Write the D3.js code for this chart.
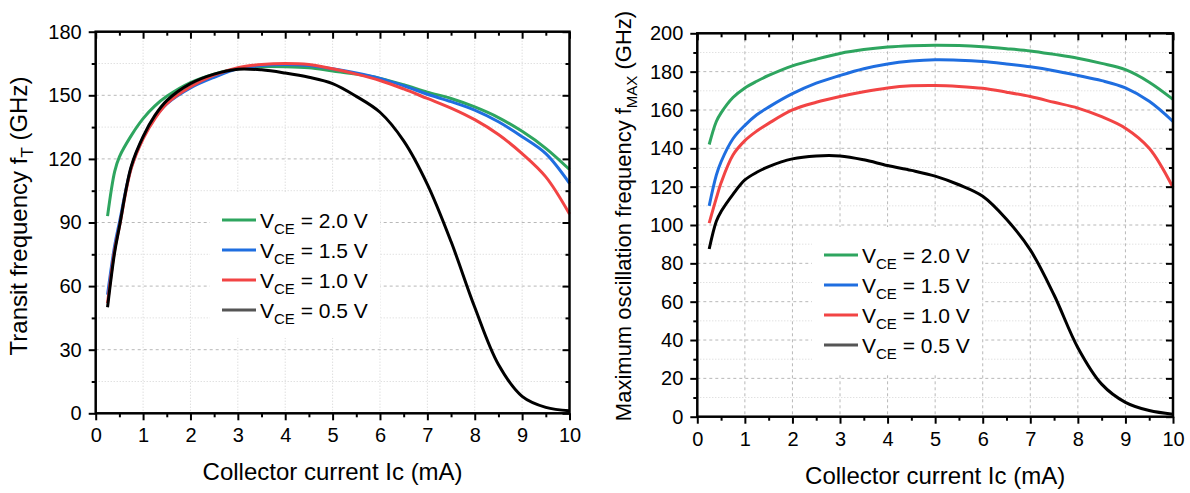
<!DOCTYPE html>
<html>
<head>
<meta charset="utf-8">
<script src="https://cdn.jsdelivr.net/npm/d3@7"></script>
<style>
  body { margin: 0; background: #fff; }
  svg text { font-family: "Liberation Sans", Arial, sans-serif; fill: #000; }
</style>
</head>
<body>
<svg id="chart" width="1190" height="493"></svg>
<script>
// collector current (mA), shared by every curve
const currents = [0.25, 0.4, 0.5, 0.75, 1, 1.25, 1.5, 2, 2.5, 3, 3.5, 4, 4.5, 5, 5.5, 6, 6.5, 7, 7.5, 8, 8.5, 9, 9.5, 10]

// series labels (V_CE) and colors
const seriesNames = ["2.0", "1.5", "1.0", "0.5"]
const seriesColors = ["#2ea55f", "#1f6ee0", "#f24444", "#000000"]
const legendColors = ["#2ea55f", "#1f6ee0", "#f24444", "#555555"]

// transit frequency fT (GHz)
const ft_20 = [93, 114, 121, 131, 139, 145, 149.5, 156, 160, 162.5, 163.5, 163.5, 163, 161.5, 160, 158, 155, 151.5, 148.5, 144.5, 139.5, 133, 125, 115]
const ft_15 = [56, 79, 90, 116, 130, 139.5, 146, 153.5, 158.5, 162.5, 164, 164.5, 164, 162.5, 160.5, 158, 154.5, 150.5, 147, 143, 137.5, 130.5, 122.5, 108.5]
const ft_10 = [52, 77, 88, 115.5, 129.5, 139, 146, 154, 159.5, 163, 164.5, 165, 164.5, 162.5, 160, 157, 153, 148.5, 144, 138.5, 131.5, 122.5, 111.5, 94]
const ft_05 = [50, 76, 88, 116.5, 130.5, 140.5, 147.5, 155.5, 160, 162.3, 162, 160.5, 158.5, 155.5, 149.5, 142, 128.5, 108, 81, 50, 23, 8, 2.8, 1.2]

// maximum oscillation frequency fMAX (GHz)
const fmax_20 = [142, 154, 158.5, 166.5, 171.5, 175, 178, 183, 186.5, 189.5, 191.5, 192.8, 193.5, 193.8, 193.6, 193, 192, 190.8, 189, 187, 184.3, 181, 174.5, 165.5]
const fmax_15 = [110, 126, 133, 145, 152, 157.5, 161.5, 168.5, 174, 178, 181.5, 184, 185.5, 186.2, 186, 185.3, 184, 182.5, 180.5, 178, 175.3, 171.5, 164.5, 154]
const fmax_10 = [101, 114, 122, 136.5, 144, 149, 153, 160, 164, 167, 169.5, 171.5, 172.6, 172.8, 172.3, 171.3, 169.3, 167, 164, 161, 156.5, 150.5, 140, 119.5]
const fmax_05 = [87.5, 102, 107, 116, 123.5, 127.5, 130.5, 134.5, 136, 136, 134, 131, 128.5, 125.5, 121, 115, 103, 87, 63.5, 36, 17, 7.5, 3.2, 1.3]

// axis ticks
const xTicks = [0, 1, 2, 3, 4, 5, 6, 7, 8, 9, 10]
const xMinor = [0.5, 1.5, 2.5, 3.5, 4.5, 5.5, 6.5, 7.5, 8.5, 9.5]
const ftTicks = [0, 30, 60, 90, 120, 150, 180]
const ftMinor = [15, 45, 75, 105, 135, 165]
const fmaxTicks = [0, 20, 40, 60, 80, 100, 120, 140, 160, 180, 200]
const fmaxMinor = [10, 30, 50, 70, 90, 110, 130, 150, 170, 190]

const xTitle = "Collector current Ic (mA)"

let svg = d3.select("#chart")

function drawPanel(p){
    let xscale = d3.scaleLinear().domain([0, 10]).range([p.left, p.right])
    let yscale = d3.scaleLinear().domain([0, p.ymax]).range([p.bottom, p.top])
    let g = svg.append("g")

    // grid: minor horizontal dotted, major horizontal dashed, vertical
    g.selectAll(".hminor").data(p.yMinor).enter().append("line")
        .attr("x1", p.left).attr("x2", p.right)
        .attr("y1", d => yscale(d)).attr("y2", d => yscale(d))
        .attr("stroke", "#d4d4d4").attr("stroke-width", 1).attr("stroke-dasharray", "1,2")
    g.selectAll(".hmajor").data(p.yTicks.slice(1, -1)).enter().append("line")
        .attr("x1", p.left).attr("x2", p.right)
        .attr("y1", d => yscale(d)).attr("y2", d => yscale(d))
        .attr("stroke", "#b8b8b8").attr("stroke-width", 1).attr("stroke-dasharray", "3,3")
    g.selectAll(".vmajor").data(xTicks.slice(1, -1)).enter().append("line")
        .attr("x1", d => xscale(d)).attr("x2", d => xscale(d))
        .attr("y1", p.top).attr("y2", p.bottom)
        .attr("stroke", p.vDash ? "#b8b8b8" : "#d0d0d0").attr("stroke-width", 1)
        .attr("stroke-dasharray", p.vDash ? "3,3" : "1,2")

    // legend background hides the grid
    g.append("rect")
        .attr("x", p.legX).attr("y", p.legY - 28)
        .attr("width", 170).attr("height", 30 * 3 + 56)
        .attr("fill", "#fff")

    // curves
    let line = d3.line()
        .x((d, i) => xscale(currents[i]))
        .y(d => yscale(d))
        .curve(d3.curveCatmullRom.alpha(0.5))
    p.series.forEach((s, i) => {
        g.append("path")
            .datum(s)
            .attr("d", line)
            .attr("fill", "none")
            .attr("stroke", seriesColors[i])
            .attr("stroke-width", 3)
            .attr("stroke-linejoin", "round")
    })

    // axes
    let tickFont = g => g.selectAll("text").style("font-size", "20px").style("font-family", "'Liberation Sans', Arial, sans-serif").attr("fill", "#000")
    let clean = g => { g.select(".domain").remove(); g.selectAll("line").attr("stroke", "#000").attr("stroke-width", 2) }

    g.append("g").attr("transform", "translate(0," + p.bottom + ")")
        .call(d3.axisBottom(xscale).tickValues(xTicks).tickFormat(d3.format("d")).tickSize(7).tickPadding(8))
        .call(clean).call(tickFont)
    g.append("g").attr("transform", "translate(0," + p.bottom + ")")
        .call(d3.axisBottom(xscale).tickValues(xMinor).tickFormat("").tickSize(4))
        .call(clean)
    g.append("g").attr("transform", "translate(" + p.left + ",0)")
        .call(d3.axisLeft(yscale).tickValues(p.yTicks).tickFormat(d3.format("d")).tickSize(7).tickPadding(7))
        .call(clean).call(tickFont)
    g.append("g").attr("transform", "translate(" + p.left + ",0)")
        .call(d3.axisLeft(yscale).tickValues(p.yMinor).tickFormat("").tickSize(4))
        .call(clean)
    // mirrored axes with inward ticks
    g.append("g").attr("transform", "translate(0," + p.top + ")")
        .call(d3.axisTop(xscale).tickValues(xTicks).tickFormat("").tickSize(-7))
        .call(clean)
    g.append("g").attr("transform", "translate(0," + p.top + ")")
        .call(d3.axisTop(xscale).tickValues(xMinor).tickFormat("").tickSize(-4))
        .call(clean)
    g.append("g").attr("transform", "translate(" + p.right + ",0)")
        .call(d3.axisRight(yscale).tickValues(p.yTicks).tickFormat("").tickSize(-7))
        .call(clean)
    g.append("g").attr("transform", "translate(" + p.right + ",0)")
        .call(d3.axisRight(yscale).tickValues(p.yMinor).tickFormat("").tickSize(-4))
        .call(clean)

    // frame
    g.append("rect")
        .attr("x", p.left).attr("y", p.top)
        .attr("width", p.right - p.left).attr("height", p.bottom - p.top)
        .attr("fill", "none").attr("stroke", "#000").attr("stroke-width", 2.5)

    // legend
    seriesNames.forEach((name, i) => {
        let ly = p.legY + i * 30
        g.append("line")
            .attr("x1", p.legX + 12).attr("x2", p.legX + 46)
            .attr("y1", ly).attr("y2", ly)
            .attr("stroke", legendColors[i]).attr("stroke-width", 3)
        let t = g.append("text")
            .attr("x", p.legX + 50).attr("y", ly + 8)
            .style("font-size", "21px")
        t.append("tspan").text("V")
        t.append("tspan").attr("dy", 6).style("font-size", "15px").text("CE")
        t.append("tspan").attr("dy", -6).text(" = " + name + " V")
    })

    // axis titles
    g.append("text")
        .attr("x", (p.left + p.right) / 2).attr("y", p.bottom + 67)
        .attr("text-anchor", "middle")
        .style("font-size", "24px")
        .text(xTitle)

    let yt = g.append("text")
        .attr("transform", "translate(" + p.yTitleX + "," + p.yTitleY + ") rotate(-90)")
        .attr("text-anchor", "middle")
        .style("font-size", p.yTitleSize + "px")
    yt.append("tspan").text(p.yTitle[0])
    yt.append("tspan").attr("dy", 6).style("font-size", (p.yTitleSize - 7) + "px").text(p.yTitle[1])
    yt.append("tspan").attr("dy", -6).text(p.yTitle[2])
}

drawPanel({
    left: 95.7, right: 569.5, top: 31.7, bottom: 413.3, ymax: 180,
    yTicks: ftTicks, yMinor: ftMinor, vDash: false,
    series: [ft_20, ft_15, ft_10, ft_05],
    legX: 210, legY: 220,
    yTitle: ["Transit frequency f", "T", " (GHz)"], yTitleX: 27, yTitleY: 216, yTitleSize: 24
})

drawPanel({
    left: 697.3, right: 1173, top: 33.3, bottom: 416.7, ymax: 200,
    yTicks: fmaxTicks, yMinor: fmaxMinor, vDash: true,
    series: [fmax_20, fmax_15, fmax_10, fmax_05],
    legX: 812, legY: 255,
    yTitle: ["Maximum oscillation frequency f", "MAX", " (GHz)"], yTitleX: 631, yTitleY: 216, yTitleSize: 22
})
</script>
</body>
</html>
